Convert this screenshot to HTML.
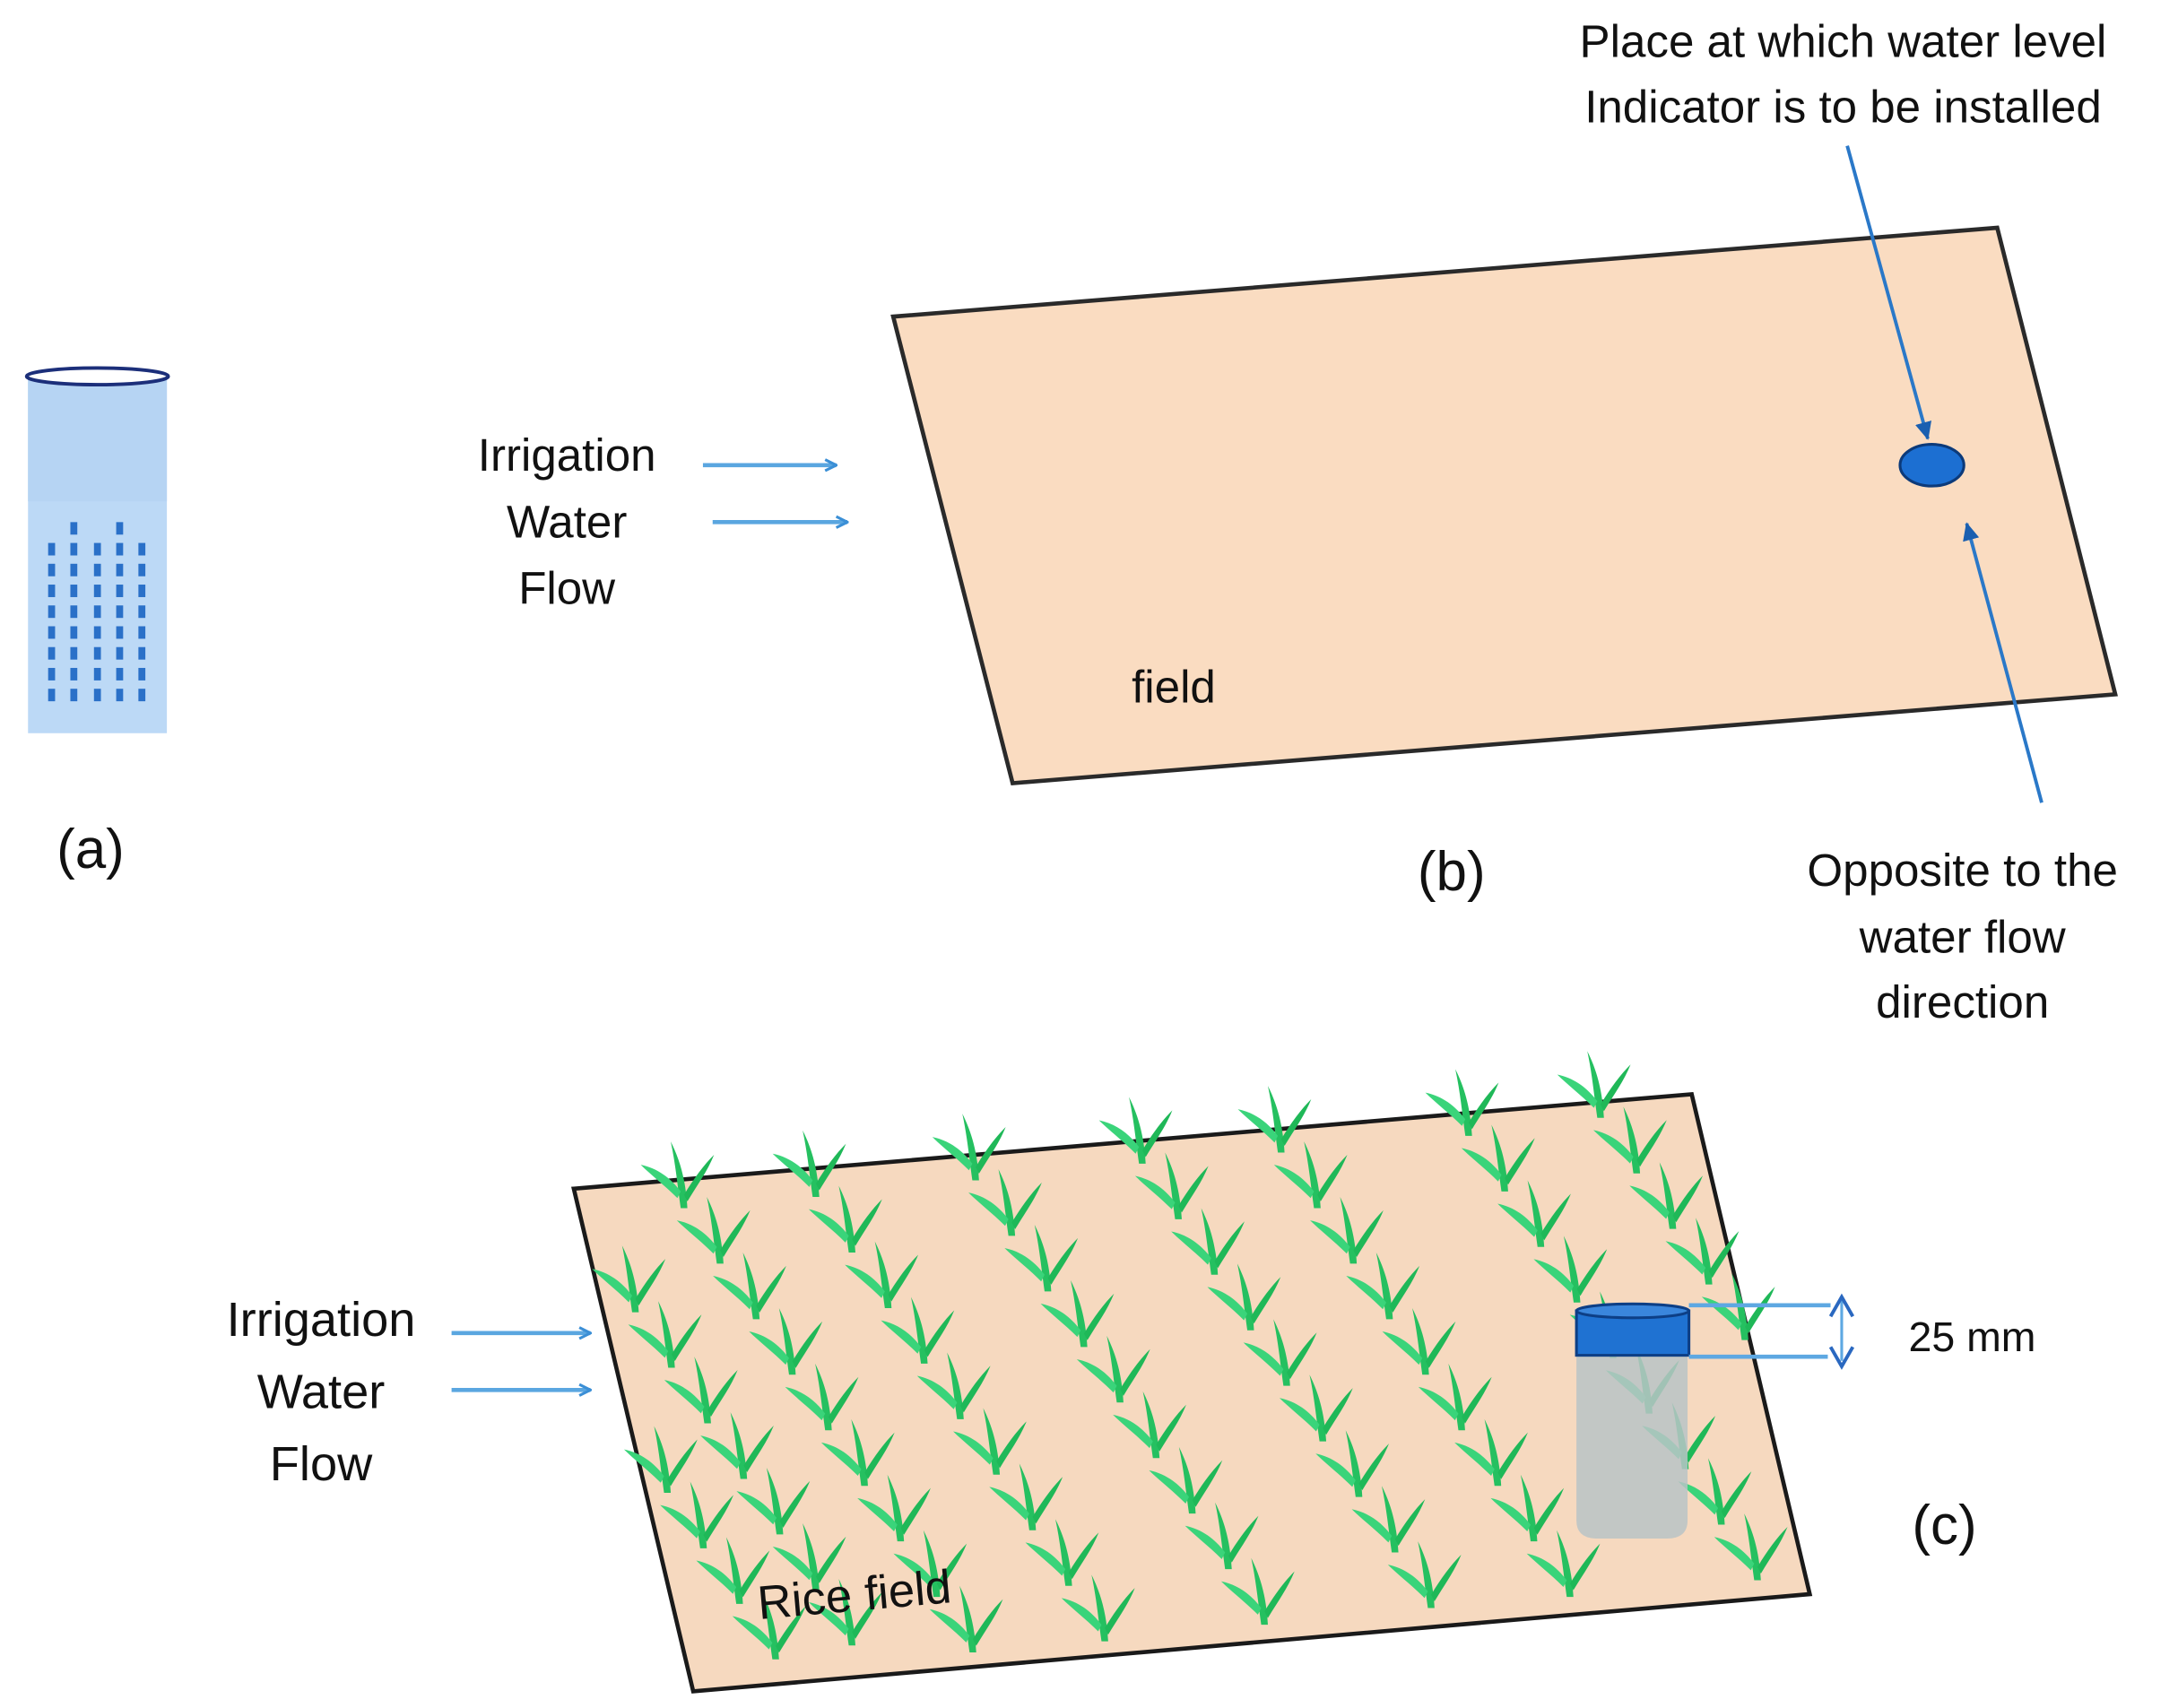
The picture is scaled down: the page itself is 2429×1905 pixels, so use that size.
<!DOCTYPE html>
<html><head><meta charset="utf-8"><style>
html,body{margin:0;padding:0;background:#fff;}
svg{display:block;}
text{font-family:"Liberation Sans",sans-serif;fill:#111;}
</style></head><body>
<svg id="s" width="2429" height="1905" viewBox="0 0 1568 1230" xmlns="http://www.w3.org/2000/svg">
<defs>
<marker id="ar" markerWidth="10" markerHeight="10" refX="9" refY="5" orient="auto" markerUnits="userSpaceOnUse">
<path d="M1,1 L9,5 L1,9" fill="none" stroke="#3b8fd6" stroke-width="2"/></marker>
<marker id="ar2" markerWidth="14" markerHeight="14" refX="12" refY="7" orient="auto" markerUnits="userSpaceOnUse">
<path d="M0,1 L13,7 L0,13 Z" fill="#1a5fb0"/></marker>
<g id="pl">
<path d="M0,0 C-2,-14 -3,-26 -6,-40 C-1,-30 3,-18 4,0 Z" fill="#25c060"/>
<path d="M-2,-6 C-10,-14 -18,-20 -24,-26 C-14,-24 -6,-18 0,-10 Z" fill="#3ad47a"/>
<path d="M2,-8 C8,-18 14,-26 20,-32 C16,-22 10,-14 4,-4 Z" fill="#1fb858"/>
</g>
</defs>

<rect x="20" y="271" width="100" height="257" fill="#bcd9f6"/>
<rect x="20" y="271" width="100" height="90" fill="#b6d4f3"/>
<ellipse cx="70" cy="271" rx="51" ry="6" fill="#fff" stroke="#1c2f7a" stroke-width="2.5"/>
<g id="holes" fill="#2a70c8"></g>
<text x="65" y="625" font-size="40" text-anchor="middle">(a)</text>

<text x="408" y="339" font-size="33" text-anchor="middle">Irrigation</text>
<text x="408" y="387" font-size="33" text-anchor="middle">Water</text>
<text x="408" y="435" font-size="33" text-anchor="middle">Flow</text>
<line x1="506" y1="335" x2="602" y2="335" stroke="#5aa6e0" stroke-width="3" marker-end="url(#ar)"/>
<line x1="513" y1="376" x2="610" y2="376" stroke="#5aa6e0" stroke-width="3" marker-end="url(#ar)"/>
<polygon points="643,228 1438,164 1523,500 729,564" fill="#fadcc1" stroke="#2a2a2a" stroke-width="3"/>
<text x="845" y="506" font-size="33" text-anchor="middle">field</text>
<ellipse cx="1391" cy="335" rx="23" ry="15" fill="#1c6fd2" stroke="#0c3a7a" stroke-width="2"/>
<line x1="1330" y1="105" x2="1388" y2="316" stroke="#2a78c8" stroke-width="2.5" marker-end="url(#ar2)"/>
<line x1="1470" y1="578" x2="1416" y2="377" stroke="#2a78c8" stroke-width="2.5" marker-end="url(#ar2)"/>
<text x="1327" y="41" font-size="33" text-anchor="middle">Place at which water level</text>
<text x="1327" y="88" font-size="33" text-anchor="middle">Indicator is to be installed</text>
<text x="1045" y="641" font-size="40" text-anchor="middle">(b)</text>
<text x="1413" y="638" font-size="33" text-anchor="middle">Opposite to the</text>
<text x="1413" y="686" font-size="33" text-anchor="middle">water flow</text>
<text x="1413" y="733" font-size="33" text-anchor="middle">direction</text>

<text x="231" y="962" font-size="35" text-anchor="middle">Irrigation</text>
<text x="231" y="1014" font-size="35" text-anchor="middle">Water</text>
<text x="231" y="1066" font-size="35" text-anchor="middle">Flow</text>
<line x1="325" y1="960" x2="425" y2="960" stroke="#5aa6e0" stroke-width="3" marker-end="url(#ar)"/>
<line x1="325" y1="1001" x2="425" y2="1001" stroke="#5aa6e0" stroke-width="3" marker-end="url(#ar)"/>
<polygon points="413,856 1218,788 1303,1148 499,1218" fill="#f6d9bf" stroke="#1a1a1a" stroke-width="3"/>
<g id="plants"></g>
<text x="615" y="1160" font-size="34" text-anchor="middle" transform="rotate(-5 615 1148)">Rice field</text>
<path d="M1135,975 L1215,975 L1215,1095 Q1215,1108 1200,1108 L1150,1108 Q1135,1108 1135,1095 Z" fill="#b9c3c6" opacity="0.85"/>
<rect x="1135" y="944" width="81" height="32" fill="#1f72d2" stroke="#0d3f86" stroke-width="2"/>
<ellipse cx="1175.5" cy="944" rx="40.5" ry="5" fill="#3a86dc" stroke="#0d3f86" stroke-width="2"/>
<line x1="1216" y1="940" x2="1318" y2="940" stroke="#5ea8e2" stroke-width="3"/>
<line x1="1216" y1="977" x2="1316" y2="977" stroke="#5ea8e2" stroke-width="3"/>
<line x1="1326" y1="936" x2="1326" y2="980" stroke="#5ea8e2" stroke-width="2"/>
<path d="M1318,948 L1326,934 L1334,948" fill="none" stroke="#2a68c0" stroke-width="2.5"/>
<path d="M1318,970 L1326,984 L1334,970" fill="none" stroke="#2a68c0" stroke-width="2.5"/>
<text x="1420" y="973" font-size="30" text-anchor="middle">25 mm</text>
<text x="1400" y="1112" font-size="40" text-anchor="middle">(c)</text>
</svg>
<script>
var NS="http://www.w3.org/2000/svg";
var h=document.getElementById("holes");
var cols=[37,53,70,86,102];
for(var r=0;r<9;r++){for(var c=0;c<5;c++){
 if(r==0&&(c!=1&&c!=3))continue;
 var e=document.createElementNS(NS,"rect");
 e.setAttribute("x",cols[c]-2.5);e.setAttribute("y",376+r*15);
 e.setAttribute("width",5);e.setAttribute("height",9);h.appendChild(e);}}
var g=document.getElementById("plants");
function inside(x,y){
 var P=[[413,856],[1218,788],[1303,1148],[499,1218]],ins=false;
 for(var i=0,j=3;i<4;j=i++){var xi=P[i][0],yi=P[i][1],xj=P[j][0],yj=P[j][1];
  if(((yi>y)!=(yj>y))&&(x<(xj-xi)*(y-yi)/(yj-yi)+xi))ins=!ins;}
 return ins;}
var starts=[[490,870],[585,862],[700,850],[820,838],[920,830],[1055,818],[1150,805],[455,945],[478,1075]];
starts.forEach(function(s){
 for(var k=0;k<10;k++){
  var x=s[0]+k*26,y=s[1]+k*40;
  if(!inside(x,y-10)||!inside(x,y))continue;
  var u=document.createElementNS(NS,"use");
  u.setAttribute("href","#pl");
  u.setAttribute("transform","translate("+x+","+y+") scale(1.2)");
  g.appendChild(u);}
});
</script>
</body></html>
